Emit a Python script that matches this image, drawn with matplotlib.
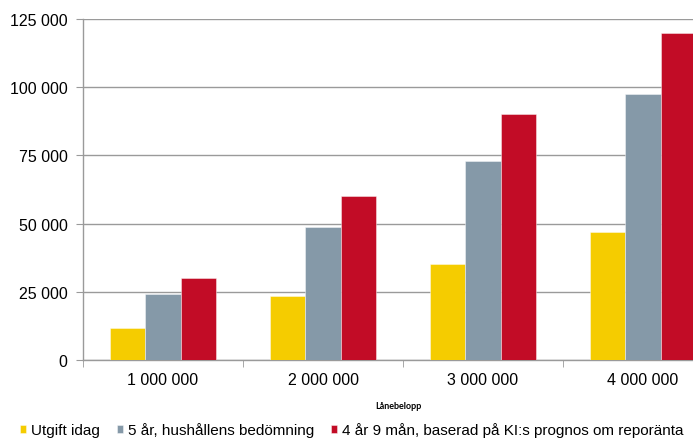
import matplotlib
matplotlib.use("Agg")
import matplotlib.pyplot as plt
from matplotlib.ticker import FixedLocator
import numpy as np

plt.rcParams['font.family'] = ['Liberation Sans', 'DejaVu Sans']

categories = ["1 000 000", "2 000 000", "3 000 000", "4 000 000"]
series_names = ["Utgift idag", "5 år, hushållens bedömning",
                "4 år 9 mån, baserad på KI:s prognos om reporänta"]
utgift_idag = [11750, 23500, 35250, 47000]
fem_ar = [24300, 48600, 73000, 97500]
ki_prognos = [30000, 60000, 90000, 120000]
yticks = [0, 25000, 50000, 75000, 100000, 125000]
ytick_labels = ["0", "25 000", "50 000", "75 000", "100 000", "125 000"]
xlabel = "Lånebelopp"

colors = ["#F5CC00", "#8599A8", "#C20C26"]
grid_col = "#9A9A9A"

fig = plt.figure(figsize=(6.93, 4.39), dpi=100)
ax = fig.add_axes([83 / 693, 1 - 361 / 439, 640 / 693, 341 / 439])

x = np.arange(len(categories))
w = 0.222
for i, (vals, c, name) in enumerate(zip([utgift_idag, fem_ar, ki_prognos], colors, series_names)):
    ax.bar(x + (i - 1) * w, vals, width=w, color=c, label=name,
           edgecolor=(1, 1, 1, 0.5), linewidth=0.6, zorder=3)

ax.set_xlim(-0.5, 3.5)
ax.set_ylim(0, 125000)
ax.set_yticks(yticks)
ax.set_yticklabels(ytick_labels)
ax.set_xticks(x)
ax.set_xticklabels(categories)
ax.xaxis.set_minor_locator(FixedLocator([-0.5, 0.5, 1.5, 2.5, 3.5]))

ax.grid(axis='y', color=grid_col, linewidth=1.0, zorder=0)
for s in ['top', 'right']:
    ax.spines[s].set_visible(False)
for s in ['left', 'bottom']:
    ax.spines[s].set_color(grid_col)
    ax.spines[s].set_linewidth(1.0)

ax.tick_params(axis='y', length=5, color=grid_col, labelsize=11.5, pad=6)
ax.tick_params(axis='x', which='major', length=0, labelsize=11.5, pad=9)
ax.tick_params(axis='x', which='minor', length=5, color=grid_col)

ax.set_xlabel(xlabel, fontsize=6.5, fontweight='bold', family=['Lato', 'DejaVu Sans'])
# place the axis title just under the tick labels, slightly left of centre
ax.xaxis.set_label_coords((398 - 83) / 640, -(402 - 361) / 341)

fig.legend(loc='center left', bbox_to_anchor=(20 / 693, 1 - 431 / 439), ncol=3,
           frameon=False, fontsize=11, handlelength=0.42, handleheight=0.42,
           handletextpad=0.3, columnspacing=1.1, borderaxespad=0, borderpad=0)

fig.savefig("out.png", dpi=100)
